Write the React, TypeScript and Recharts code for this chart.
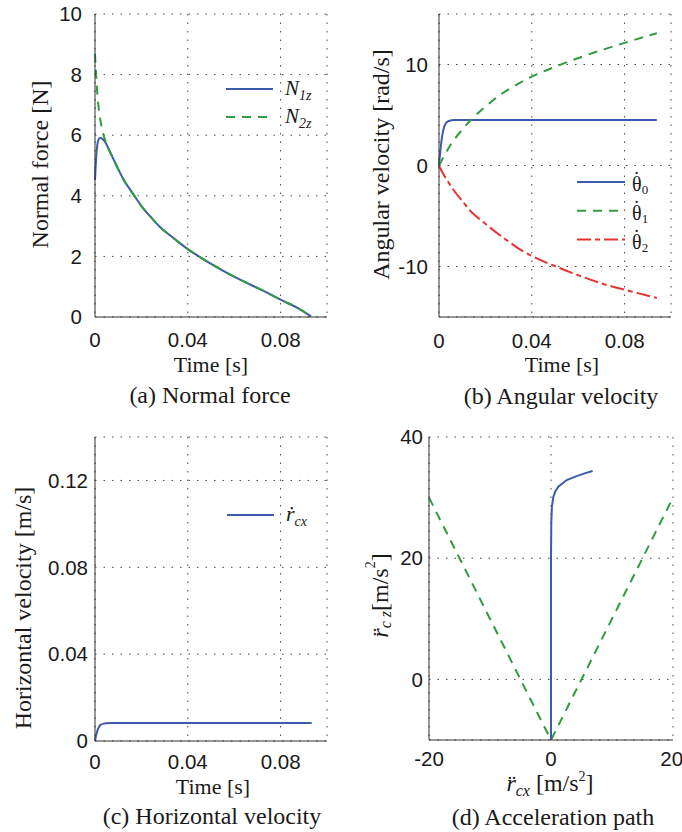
import React from "react"
import { LineChart, Line, XAxis, YAxis, CartesianGrid, Legend, Label } from "recharts"

// (a) normal force
const forceTime = [0, 0.0005, 0.001, 0.0015, 0.002, 0.0026, 0.0035, 0.0045, 0.006, 0.008, 0.0095, 0.012, 0.0167, 0.02, 0.0239, 0.028, 0.0326, 0.036, 0.04, 0.0484, 0.0585, 0.065, 0.07, 0.075, 0.08, 0.0873, 0.0931]
const n1z = [4.52, 5.25, 5.68, 5.85, 5.9, 5.91, 5.85, 5.76, 5.52, 5.2, 4.96, 4.58, 4.03, 3.66, 3.31, 2.97, 2.68, 2.47, 2.24, 1.83, 1.39, 1.14, 0.96, 0.77, 0.57, 0.3, 0.02]
const n2z = [8.69, 7.95, 7.35, 6.95, 6.65, 6.38, 6.05, 5.82, 5.53, 5.2, 4.96, 4.58, 4.03, 3.66, 3.31, 2.97, 2.68, 2.47, 2.24, 1.83, 1.39, 1.14, 0.96, 0.77, 0.57, 0.3, 0.02]

// (b) angular velocity
const omegaTime = [0, 0.0006, 0.0015, 0.0032, 0.0046, 0.0053, 0.007, 0.0104, 0.0133, 0.0191, 0.022, 0.0277, 0.0306, 0.0342, 0.04, 0.0509, 0.061, 0.0711, 0.08, 0.0939]
const theta0 = [0, 1.48, 3.1, 4.26, 4.43, 4.49, 4.5, 4.5, 4.5, 4.5, 4.5, 4.5, 4.5, 4.5, 4.5, 4.5, 4.5, 4.5, 4.5, 4.5]
const theta1 = [0, 0.25, 0.65, 1.35, 1.9, 2.15, 2.7, 3.65, 4.4, 5.65, 6.22, 7.2, 7.62, 8.1, 8.8, 9.85, 10.72, 11.5, 12.14, 13.1]
const theta2 = [0, -0.3, -0.7, -1.35, -1.85, -2.1, -2.65, -3.61, -4.45, -5.6, -6.15, -7.15, -7.62, -8.2, -8.95, -10.05, -10.95, -11.75, -12.3, -13.12]

// (c) horizontal velocity
const velTime = [0, 0.0005, 0.0009, 0.0014, 0.002, 0.0028, 0.0037, 0.005, 0.007, 0.02, 0.04, 0.06, 0.08, 0.0934]
const rcx = [0, 0.0027, 0.0043, 0.0058, 0.007, 0.0076, 0.008, 0.0082, 0.0083, 0.0083, 0.0083, 0.0083, 0.0083, 0.0083]

// (d) acceleration path + friction cone
const pathX = [0, 0, 0, 0, 0.05, 0.15, 0.38, 0.7, 1.2, 2.57, 4.2, 5.5, 6.83]
const pathZ = [-10, 0, 10, 20, 26, 28.5, 30.1, 31, 31.8, 32.9, 33.55, 34.0, 34.4]
const coneX = [-20, 0, 20]
const coneZ = [30, -10, 30]

const timeTicks = [0, 0.04, 0.08]

const BLUE = "#3d5bab"
const GREEN = "#2f9c3f"
const RED = "#e63430"
const FRAME = "#333"
const INK = "#1a1a1a"
const SERIF = "'Liberation Serif', 'Times New Roman', serif"
const SANS = "'Liberation Sans', Arial, sans-serif"

const tickStyle = { fontFamily: SANS, fontSize: 20.5, fill: INK }
const grid = { stroke: "#444", strokeDasharray: "1.5 7", strokeWidth: 1 }

const forceData = forceTime.map((t, i) => ({ t, n1: n1z[i], n2: n2z[i] }))
const omegaData = omegaTime.map((t, i) => ({ t, w0: theta0[i], w1: theta1[i], w2: theta2[i] }))
const velData = velTime.map((t, i) => ({ t, v: rcx[i] }))
const pathData = pathX.map((x, i) => ({ x, z: pathZ[i] }))
const coneData = coneX.map((x, i) => ({ x, z: coneZ[i] }))

type Series = { key: string; color: string; dash?: string; label: React.ReactNode }

const sub = (s: string, size = 14, dy = 5, italic = true) => (
  <tspan fontSize={size} dy={dy} fontStyle={italic ? "italic" : "normal"}>{s}</tspan>
)

// theta with a dot on top, then a subscript index
const thetaDot = (i: string) => (
  <>
    <tspan>{"\u03B8"}</tspan>
    <tspan dx={-8.3} dy={-5}>{"\u02D9"}</tspan>
    <tspan dx={1.8} dy={8} fontSize={13}>{i}</tspan>
  </>
)

const forceSeries: Series[] = [
  { key: "n1", color: BLUE, label: <><tspan fontStyle="italic">N</tspan>{sub("1z")}</> },
  { key: "n2", color: GREEN, dash: "9 7", label: <><tspan fontStyle="italic">N</tspan>{sub("2z")}</> },
]
const omegaSeries: Series[] = [
  { key: "w0", color: BLUE, label: thetaDot("0") },
  { key: "w1", color: GREEN, dash: "9 7", label: thetaDot("1") },
  { key: "w2", color: RED, dash: "14 4 5 4", label: thetaDot("2") },
]
const velSeries: Series[] = [
  { key: "v", color: BLUE, label: <><tspan fontStyle="italic">{"r\u0307"}</tspan>{sub("cx")}</> },
]

function makeLegend(series: Series[], opts: { len: number; gap: number; step: number; base: number; fontSize: number }) {
  return () => (
    <svg width={130} height={series.length * opts.step + 10} style={{ display: "block", overflow: "visible" }}>
      {series.map((s, i) => {
        const y = 12 + i * opts.step
        return (
          <g key={s.key}>
            <line x1={0} x2={opts.len} y1={y} y2={y} stroke={s.color} strokeWidth={2} strokeDasharray={s.dash} />
            <text x={opts.len + opts.gap} y={y + opts.base} fontFamily={SERIF} fontSize={opts.fontSize} fill={INK}>
              {s.label}
            </text>
          </g>
        )
      })}
    </svg>
  )
}

function xLabel(title: React.ReactNode, caption: string, t: { dx: number; dy: number; cdx: number; cdy: number }) {
  return (props: any) => {
    const { x, y, width } = props.viewBox
    const cx = x + width / 2
    return (
      <g>
        <text x={cx + t.dx} y={y + t.dy} textAnchor="middle" fontFamily={SERIF} fontSize={22} fill={INK}>{title}</text>
        <text x={cx + t.cdx} y={y + t.cdy} textAnchor="middle" fontFamily={SERIF} fontSize={24} fill={INK}>{caption}</text>
      </g>
    )
  }
}

function yLabel(title: React.ReactNode, cx: number, dy: number) {
  return (props: any) => {
    const { y, height } = props.viewBox
    const cy = y + height / 2 + dy
    return (
      <text transform={`translate(${cx},${cy}) rotate(-90)`} textAnchor="middle" dominantBaseline="central"
        fontFamily={SERIF} fontSize={24} fill={INK}>
        {title}
      </text>
    )
  }
}

const W = 341
const H = 416

export default function App() {
  // mirrored axes close the box on top and right, like a MATLAB frame
  const frameAxes = (xDomain: number[], yDomain: number[]) => [
    <XAxis key="top" xAxisId="top" orientation="top" type="number" domain={xDomain} height={0} tick={false} tickLine={false} axisLine={{ stroke: FRAME }} />,
    <YAxis key="right" yAxisId="right" orientation="right" type="number" domain={yDomain} width={0} tick={false} tickLine={false} axisLine={{ stroke: FRAME }} />,
  ]

  return (
    <div style={{ position: "absolute", left: 0, top: 0, width: 682, height: 832, background: "#fff" }}>
      {/* (a) */}
      <div style={{ position: "absolute", left: 0, top: 0 }}>
        <LineChart width={W} height={H} data={forceData} margin={{ top: 14, right: 14, left: 0, bottom: 59 }}>
          <CartesianGrid {...grid} />
          <XAxis dataKey="t" type="number" domain={[0, 0.1]} ticks={timeTicks} tick={tickStyle} tickLine={false} tickSize={0} tickMargin={15} height={40} axisLine={{ stroke: FRAME }}>
            <Label content={xLabel("Time [s]", "(a) Normal force", { dx: 0, dy: 55, cdx: -1, cdy: 86 })} />
          </XAxis>
          <YAxis type="number" domain={[0, 10]} ticks={[0, 2, 4, 6, 8, 10]} tick={tickStyle} tickLine={false} tickSize={0} tickMargin={13} width={95} axisLine={{ stroke: FRAME }}>
            <Label content={yLabel("Normal force [N]", 40, -1)} />
          </YAxis>
          {frameAxes([0, 0.1], [0, 10])}
          {forceSeries.map((s) => (
            <Line key={s.key} dataKey={s.key} type="monotone" stroke={s.color} strokeWidth={2} strokeDasharray={s.dash} dot={false} activeDot={false} isAnimationActive={false} />
          ))}
          <Legend layout="vertical" align="center" verticalAlign="middle" wrapperStyle={{ left: 226, top: 77, width: 130 }}
            content={makeLegend(forceSeries, { len: 47, gap: 12, step: 28, base: 6, fontSize: 21 })} />
        </LineChart>
      </div>

      {/* (b) */}
      <div style={{ position: "absolute", left: 341, top: 0 }}>
        <LineChart width={W} height={H} data={omegaData} margin={{ top: 14, right: 11, left: 0, bottom: 59 }}>
          <CartesianGrid {...grid} />
          <XAxis dataKey="t" type="number" domain={[0, 0.1]} ticks={timeTicks} tick={tickStyle} tickLine={false} tickSize={0} tickMargin={16} height={40} axisLine={{ stroke: FRAME }}>
            <Label content={xLabel("Time [s]", "(b) Angular velocity", { dx: 7, dy: 55, cdx: 6, cdy: 87 })} />
          </XAxis>
          <YAxis type="number" domain={[-15, 15]} ticks={[-10, 0, 10]} tick={tickStyle} tickLine={false} tickSize={0} tickMargin={11} width={98} axisLine={{ stroke: FRAME }}>
            <Label content={yLabel("Angular velocity [rad/s]", 40, -1)} />
          </YAxis>
          {frameAxes([0, 0.1], [-15, 15])}
          {omegaSeries.map((s) => (
            <Line key={s.key} dataKey={s.key} type="monotone" stroke={s.color} strokeWidth={2} strokeDasharray={s.dash} dot={false} activeDot={false} isAnimationActive={false} />
          ))}
          <Legend layout="vertical" align="center" verticalAlign="middle" wrapperStyle={{ left: 236, top: 170, width: 130 }}
            content={makeLegend(omegaSeries, { len: 48, gap: 7, step: 28.8, base: 9, fontSize: 20 })} />
        </LineChart>
      </div>

      {/* (c) */}
      <div style={{ position: "absolute", left: 0, top: 416 }}>
        <LineChart width={W} height={H} data={velData} margin={{ top: 21, right: 14, left: 0, bottom: 51 }}>
          <CartesianGrid {...grid} />
          <XAxis dataKey="t" type="number" domain={[0, 0.1]} ticks={timeTicks} tick={tickStyle} tickLine={false} tickSize={0} tickMargin={13} height={40} axisLine={{ stroke: FRAME }}>
            <Label content={xLabel("Time [s]", "(c) Horizontal velocity", { dx: 2, dy: 53, cdx: 1, cdy: 83 })} />
          </XAxis>
          <YAxis type="number" domain={[0, 0.14]} ticks={[0, 0.04, 0.08, 0.12]} tick={tickStyle} tickLine={false} tickSize={0} tickMargin={7} width={95} axisLine={{ stroke: FRAME }}>
            <Label content={yLabel("Horizontal velocity [m/s]", 23, 19)} />
          </YAxis>
          {frameAxes([0, 0.1], [0, 0.14])}
          {velSeries.map((s) => (
            <Line key={s.key} dataKey={s.key} type="monotone" stroke={s.color} strokeWidth={2} dot={false} activeDot={false} isAnimationActive={false} />
          ))}
          <Legend layout="vertical" align="center" verticalAlign="middle" wrapperStyle={{ left: 227, top: 87, width: 130 }}
            content={makeLegend(velSeries, { len: 47, gap: 12, step: 28, base: 6, fontSize: 22 })} />
        </LineChart>
      </div>

      {/* (d) */}
      <div style={{ position: "absolute", left: 341, top: 416 }}>
        <LineChart width={W} height={H} margin={{ top: 21, right: 9, left: 0, bottom: 52 }}>
          <CartesianGrid {...grid} />
          <XAxis dataKey="x" type="number" domain={[-20, 20]} ticks={[-20, 0, 20]} tick={tickStyle} tickLine={false} tickSize={0} tickMargin={11} height={40} axisLine={{ stroke: FRAME }}>
            <Label content={xLabel(
              <><tspan fontStyle="italic" fontSize={24}>{"r\u0308"}</tspan><tspan fontStyle="italic" fontSize={16} dy={5}>cx</tspan><tspan fontSize={24} dy={-5}> [m/s</tspan><tspan fontSize={14} dy={-10}>2</tspan><tspan fontSize={24} dy={10}>]</tspan></>,
              "(d) Acceleration path", { dx: -1, dy: 51, cdx: 2, cdy: 85 })} />
          </XAxis>
          <YAxis type="number" domain={[-10, 40]} ticks={[0, 20, 40]} tick={tickStyle} tickLine={false} tickSize={0} tickMargin={6} width={88} axisLine={{ stroke: FRAME }}>
            <Label content={yLabel(
              <><tspan fontStyle="italic">{"r\u0308"}</tspan><tspan fontStyle="italic" fontSize={16} dy={5}>c z</tspan><tspan dy={-5}>[m/s</tspan><tspan fontSize={14} dy={-10}>2</tspan><tspan dy={10}>]</tspan></>,
              39, 7)} />
          </YAxis>
          {frameAxes([-20, 20], [-10, 40])}
          <Line data={coneData} dataKey="z" type="linear" stroke={GREEN} strokeWidth={2} strokeDasharray="9 7" dot={false} activeDot={false} isAnimationActive={false} />
          <Line data={pathData} dataKey="z" type="linear" stroke={BLUE} strokeWidth={2} dot={false} activeDot={false} isAnimationActive={false} />
        </LineChart>
      </div>
    </div>
  )
}
